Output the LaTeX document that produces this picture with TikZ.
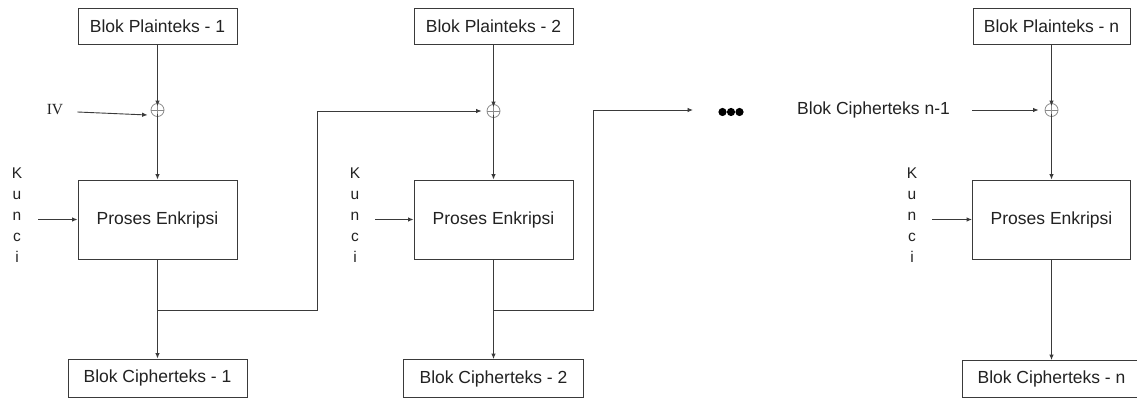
\documentclass[tikz,border=0pt]{standalone}
\usepackage{fontspec}
\setmainfont{Liberation Sans}
\newfontfamily\serifface{Liberation Serif}
\usetikzlibrary{arrows.meta}
\definecolor{ink}{HTML}{3A3A3A}
\definecolor{txt}{HTML}{222222}
\definecolor{xorgray}{HTML}{8A8A8A}
\begin{document}
\begin{tikzpicture}[x=1pt,y=-1pt,
  box/.style={draw=ink,line width=0.9pt,fill=white,text=txt,inner sep=0pt,
    font=\fontsize{17.5}{21}\selectfont},
  arr/.style={draw=ink,line width=0.9pt,-{Latex[length=5.5pt,width=4.5pt]}},
  ln/.style={draw=ink,line width=0.9pt},
  xor/.style={circle,draw=xorgray,line width=0.8pt,minimum size=13pt,inner sep=0pt,
    path picture={\draw[xorgray,line width=0.8pt]
      (path picture bounding box.north) -- (path picture bounding box.south)
      (path picture bounding box.west) -- (path picture bounding box.east);}},
  keytext/.style={text=txt,align=center,inner sep=0pt,
    font=\fontsize{15.5}{21}\selectfont},
  lbl/.style={text=txt,inner sep=0pt,font=\fontsize{17.5}{21}\selectfont}]
\useasboundingbox (0,0) rectangle (1137,398);
\clip (0,0) rectangle (1137,398);

% ---------- first block ----------
\node[box,minimum width=159pt,minimum height=36pt] (pt1) at (157.5,26) {Blok Plainteks - 1};
\node[xor] (x1) at (157.5,110) {};
\node[text=txt,inner sep=0pt,font=\serifface\fontsize{15.5}{18}\selectfont] (iv) at (55,110) {IV};
\node[box,minimum width=159pt,minimum height=79pt] (e1) at (157.5,219.5) {Proses Enkripsi};
\node[keytext] (k1) at (17,215) {K\\u\\n\\c\\i};
\node[box,minimum width=179pt,minimum height=38pt] (c1) at (157.5,378) {Blok Cipherteks - 1};
\coordinate (j1) at (157.5,310);

\draw[arr] (pt1.south) -- ([yshift=-3pt]x1.north);
\draw[arr] ([xshift=14pt,yshift=-2pt]iv.east) -- ([xshift=-3pt,yshift=-5pt]x1.west);
\draw[arr] ([yshift=3pt]x1.south) -- (e1.north);
\draw[arr] ([xshift=16pt]k1.east |- e1.west) -- (e1.west);
\draw[ln] (e1.south) -- (j1);
\draw[arr] (j1) -- (c1.north);

% ---------- second block ----------
\node[box,minimum width=159pt,minimum height=36pt] (pt2) at (493.5,26) {Blok Plainteks - 2};
\node[xor] (x2) at (493.5,111) {};
\node[box,minimum width=159pt,minimum height=79pt] (e2) at (493.5,219.5) {Proses Enkripsi};
\node[keytext] (k2) at (355,215) {K\\u\\n\\c\\i};
\node[box,minimum width=180pt,minimum height=38pt] (c2) at (493.5,378.5) {Blok Cipherteks - 2};
\coordinate (j2) at (493.5,310);

\draw[arr] (pt2.south) -- ([yshift=-3pt]x2.north);
\draw[arr] (j1) -| (317,111) -- ([xshift=-5pt]x2.west);
\draw[arr] ([yshift=3pt]x2.south) -- (e2.north);
\draw[arr] ([xshift=15pt]k2.east |- e2.west) -- (e2.west);
\draw[ln] (e2.south) -- (j2);
\draw[arr] (j2) -- (c2.north);

% ---------- ellipsis ----------
\node[inner sep=0pt] (dots) at (731,112) {%
  \tikz[x=1pt,y=1pt]{\foreach \i in {0,8.5,17}\fill[black] (\i,0) circle (4.1pt);}};
\coordinate (toDots) at (693,110);
\draw[arr] (j2) -| (593,110) -- (toDots);

% ---------- last block ----------
\node[box,minimum width=157pt,minimum height=36pt] (ptn) at (1051.5,26) {Blok Plainteks - n};
\node[xor] (xn) at (1051.5,110) {};
\node[lbl,anchor=west] (cprev) at (797,110) {Blok Cipherteks n-1};
\node[box,minimum width=158pt,minimum height=79pt] (en) at (1051.5,219.5) {Proses Enkripsi};
\node[keytext] (kn) at (912,215) {K\\u\\n\\c\\i};
\node[box,minimum width=178pt,minimum height=37pt] (cn) at (1051.5,379) {Blok Cipherteks - n};

\draw[arr] (ptn.south) -- ([yshift=-3pt]xn.north);
\draw[arr] ([xshift=22pt]cprev.east) -- ([xshift=-6pt]xn.west);
\draw[arr] ([yshift=3pt]xn.south) -- (en.north);
\draw[arr] ([xshift=15pt]kn.east |- en.west) -- (en.west);
\draw[arr] (en.south) -- (cn.north);
\end{tikzpicture}
\end{document}
